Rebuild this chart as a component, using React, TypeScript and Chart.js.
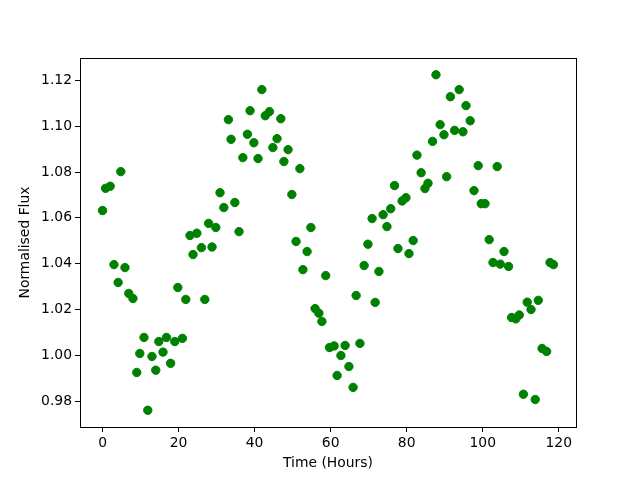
import React, { useEffect, useRef } from "react";
import { Chart, registerables } from "chart.js";

Chart.register(...registerables);

const timeHours: number[] = [
  0.0, 0.8, 2.0, 3.0, 4.1, 4.8, 5.9, 6.9, 8.0, 9.0,
  9.8, 10.9, 11.9, 13.0, 14.0, 14.8, 15.9, 16.8, 17.9, 19.0,
  19.8, 21.0, 21.9, 23.0, 23.8, 24.8, 26.0, 26.9, 27.9, 28.8,
  29.8, 30.9, 31.9, 33.1, 33.8, 34.8, 35.9, 36.9, 38.1, 38.8,
  39.8, 40.9, 41.9, 42.8, 43.9, 44.8, 45.9, 46.9, 47.7, 48.8,
  49.8, 50.9, 51.9, 52.7, 53.8, 54.8, 55.9, 56.9, 57.7, 58.7,
  59.7, 60.9, 61.7, 62.7, 63.8, 64.8, 65.9, 66.7, 67.7, 68.8,
  69.8, 70.9, 71.7, 72.7, 73.8, 74.8, 75.8, 76.8, 77.7, 78.8,
  79.8, 80.6, 81.7, 82.7, 83.8, 84.8, 85.6, 86.8, 87.7, 88.8,
  89.8, 90.5, 91.5, 92.6, 93.8, 94.8, 95.6, 96.7, 97.7, 98.8,
  99.6, 100.6, 101.7, 102.7, 103.8, 104.6, 105.6, 106.8, 107.6, 108.7,
  109.6, 110.7, 111.7, 112.7, 113.8, 114.6, 115.6, 116.8, 117.7, 118.6,
];

const normalisedFlux: number[] = [
  1.0632, 1.0729, 1.0738, 1.0396, 1.0318, 1.0802, 1.0383, 1.027, 1.0248, 0.9925,
  1.0008, 1.0078, 0.976, 0.9995, 0.9935, 1.006, 1.0014, 1.0078, 0.9965, 1.006,
  1.0296, 1.0074, 1.0244, 1.0523, 1.044, 1.0533, 1.047, 1.0244, 1.0576, 1.0473,
  1.0558, 1.071, 1.0645, 1.1029, 1.0943, 1.0667, 1.054, 1.0863, 1.0965, 1.1068,
  1.0928, 1.0859, 1.116, 1.1046, 1.1064, 1.0907, 1.0946, 1.1033, 1.0846, 1.0898,
  1.0702, 1.0497, 1.0815, 1.0374, 1.0453, 1.0558, 1.0204, 1.0184, 1.0148, 1.0348,
  1.0034, 1.0041, 0.9912, 0.9999, 1.0043, 0.9951, 0.986, 1.0261, 1.0052, 1.0392,
  1.0485, 1.0597, 1.0231, 1.0366, 1.0614, 1.0562, 1.064, 1.0741, 1.0466, 1.0674,
  1.0688, 1.0444, 1.0501, 1.0874, 1.0797, 1.0728, 1.0751, 1.0934, 1.1225, 1.1007,
  1.0963, 1.078, 1.1129, 1.0982, 1.116, 1.0976, 1.109, 1.1024, 1.0719, 1.0828,
  1.0662, 1.0662, 1.0505, 1.0405, 1.0824, 1.0398, 1.0453, 1.0388, 1.0165, 1.0159,
  1.0176, 0.983, 1.0232, 1.02, 0.9807, 1.024, 1.003, 1.0017, 1.0405, 1.0396,
];

const xTicks: number[] = [0, 20, 40, 60, 80, 100, 120];
const yTicks: number[] = [0.98, 1.0, 1.02, 1.04, 1.06, 1.08, 1.1, 1.12];

const FONT = "'DejaVu Sans', sans-serif";

const frame = {
  id: "frame",
  afterDraw(chart: any) {
    const { ctx, chartArea } = chart;
    ctx.save();
    ctx.strokeStyle = "#000";
    ctx.lineWidth = 1;
    ctx.strokeRect(
      Math.round(chartArea.left) + 0.5,
      Math.round(chartArea.top) + 0.5,
      Math.round(chartArea.right - chartArea.left),
      Math.round(chartArea.bottom - chartArea.top)
    );
    ctx.restore();
  },
};

export default function App() {
  const ref = useRef<HTMLCanvasElement | null>(null);

  useEffect(() => {
    if (!ref.current) return;
    const data = timeHours.map((t, i) => ({ x: t, y: normalisedFlux[i] }));
    const chart = new Chart(ref.current, {
      type: "scatter",
      data: {
        datasets: [
          {
            data,
            backgroundColor: "#008000",
            borderColor: "#008000",
            borderWidth: 1,
            pointRadius: 4.2,
            pointHoverRadius: 4.2,
          },
        ],
      },
      plugins: [frame],
      options: {
        animation: false,
        responsive: false,
        events: [],
        layout: { padding: { left: 0, top: 58, right: 64, bottom: 0 } },
        plugins: { legend: { display: false }, tooltip: { enabled: false } },
        scales: {
          x: {
            type: "linear",
            min: -5.93,
            max: 124.53,
            afterFit: (s: any) => {
              s.height = 53;
            },
            afterBuildTicks: (s: any) => {
              s.ticks = xTicks.map((v) => ({ value: v }));
            },
            ticks: {
              color: "#000",
              font: { family: FONT, size: 13.9 },
              padding: 3,
              maxRotation: 0,
              callback: (v: any) => String(v),
            },
            grid: {
              drawOnChartArea: false,
              drawTicks: true,
              tickLength: 5,
              tickColor: "#000",
            },
            border: { display: true, color: "#000", width: 1 },
            title: {
              display: true,
              text: "Time (Hours)",
              color: "#000",
              font: { family: FONT, size: 13.9 },
              padding: { top: 0, bottom: 8 },
            },
          },
          y: {
            type: "linear",
            min: 0.9687,
            max: 1.1298,
            afterFit: (s: any) => {
              s.width = 80;
            },
            afterBuildTicks: (s: any) => {
              s.ticks = yTicks.map((v) => ({ value: v }));
            },
            ticks: {
              color: "#000",
              font: { family: FONT, size: 13.9 },
              padding: 3,
              callback: (v: any) => Number(v).toFixed(2),
            },
            grid: {
              drawOnChartArea: false,
              drawTicks: true,
              tickLength: 5,
              tickColor: "#000",
            },
            border: { display: true, color: "#000", width: 1 },
            title: {
              display: true,
              text: "Normalised Flux",
              color: "#000",
              font: { family: FONT, size: 13.9 },
              padding: { top: 17, bottom: 0 },
            },
          },
        },
      },
    } as any);
    return () => chart.destroy();
  }, []);

  return (
    <div style={{ position: "fixed", left: 0, top: 0, width: 640, height: 480, background: "#fff" }}>
      <canvas ref={ref} width={640} height={480} style={{ width: 640, height: 480, display: "block" }} />
    </div>
  );
}
